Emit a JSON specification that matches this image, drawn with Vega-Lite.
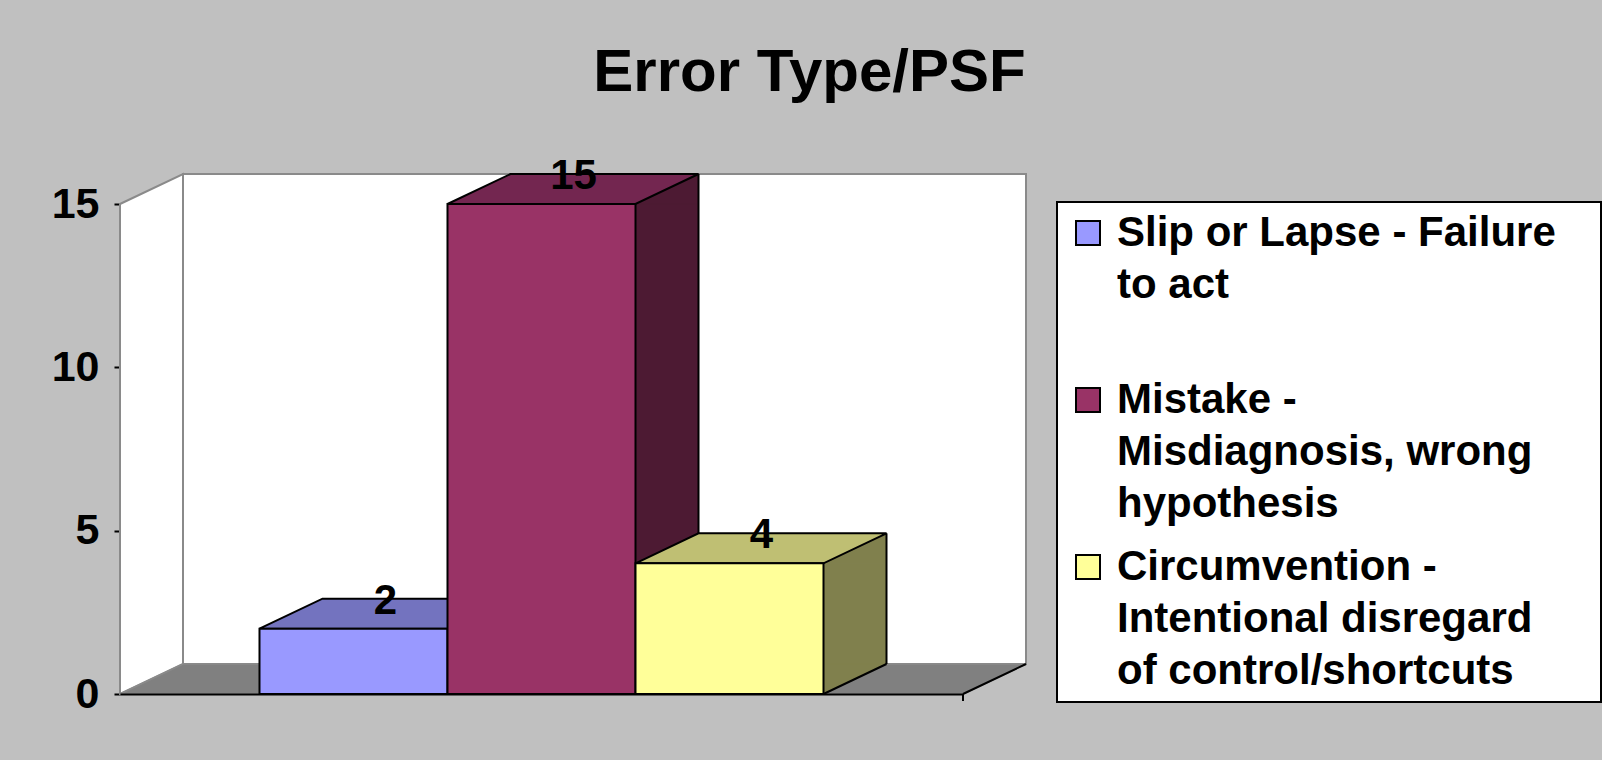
{
  "$schema": "https://vega.github.io/schema/vega-lite/v6.json",
  "width": 843,
  "height": 490,
  "autosize": {"type": "none"},
  "padding": {"left": 120, "top": 204, "right": 639, "bottom": 66},
  "background": "#C0C0C0",
  "config": {"view": {"stroke": null}, "font": "Liberation Sans",
    "axisY": {"title": null, "grid": false, "domainColor": "black", "domainWidth": 2, "tickColor": "black", "tickWidth": 2, "tickSize": 6, "labelFontSize": 43, "labelFontWeight": "bold", "labelColor": "black", "labelPadding": 15, "labelFont": "Liberation Sans", "zindex": 1}},
  "title": {"text": "Error Type/PSF", "font": "Liberation Sans", "fontSize": 60, "fontWeight": "bold", "color": "black", "anchor": "middle", "frame": "group", "dx": 268, "offset": 51},
  "data": {"values": [
    {"cat": "Slip or Lapse - Failure to act", "count": 2},
    {"cat": "Mistake - Misdiagnosis, wrong hypothesis", "count": 15},
    {"cat": "Circumvention - Intentional disregard of control/shortcuts", "count": 4}
  ]},
  "resolve": {"scale": {"x": "independent", "fill": "independent", "stroke": "independent", "color": "independent"}},
  "layer": [
    {
      "data": {"values": [{"part": "back wall"}]},
      "mark": {"type": "point", "shape": "M63,-30 L63,-520 L906,-520 L906,-30 Z", "size": 4, "filled": true, "fill": "white", "stroke": "#8A8A8A", "strokeWidth": 2, "opacity": 1},
      "encoding": {
        "x": {"datum": 0, "type": "quantitative", "scale": {"domain": [0, 1]}, "axis": null},
        "y": {"datum": 0, "type": "quantitative", "scale": {"domain": [0, 15], "nice": false}, "axis": {"values": [0, 5, 10, 15], "title": null}}
      }
    },
    {
      "data": {"values": [{"part": "side wall"}]},
      "mark": {"type": "point", "shape": "M0,0 L0,-490 L63,-520 L63,-30 Z", "size": 4, "filled": true, "fill": "white", "stroke": "#8A8A8A", "strokeWidth": 2, "opacity": 1},
      "encoding": {
        "x": {"datum": 0, "type": "quantitative", "scale": {"domain": [0, 1]}, "axis": null},
        "y": {"datum": 0, "type": "quantitative", "scale": {"domain": [0, 15], "nice": false}, "axis": {"values": [0, 5, 10, 15], "title": null}}
      }
    },
    {
      "data": {"values": [{"part": "floor"}]},
      "mark": {"type": "point", "shape": "M0,0 L63,-30 L906,-30 L843,0 Z", "size": 4, "filled": true, "fill": "#808080", "stroke": "#8A8A8A", "strokeWidth": 1.5, "opacity": 1},
      "encoding": {
        "x": {"datum": 0, "type": "quantitative", "scale": {"domain": [0, 1]}, "axis": null},
        "y": {"datum": 0, "type": "quantitative", "scale": {"domain": [0, 15], "nice": false}, "axis": {"values": [0, 5, 10, 15], "title": null}}
      }
    },
    {
      "data": {"values": [{"part": "floor edge"}]},
      "mark": {"type": "point", "shape": "M843,0 L906,-30 M843,0 L843,7", "size": 4, "filled": false, "stroke": "black", "strokeWidth": 2, "opacity": 1},
      "encoding": {
        "x": {"datum": 0, "type": "quantitative", "scale": {"domain": [0, 1]}, "axis": null},
        "y": {"datum": 0, "type": "quantitative", "scale": {"domain": [0, 15], "nice": false}, "axis": {"values": [0, 5, 10, 15], "title": null}}
      }
    },
    {
      "mark": {"type": "bar", "width": 63, "xOffset": 125.5, "y2Offset": -30, "strokeWidth": 1},
      "encoding": {
        "x": {"field": "cat", "type": "nominal", "sort": null, "scale": {"type": "band", "paddingInner": 0, "paddingOuter": 0.742}, "axis": null},
        "y": {"field": "count", "type": "quantitative", "scale": {"domain": [0, 15], "nice": false}, "axis": {"values": [0, 5, 10, 15], "title": null}},
        "y2": {"datum": 0},
        "fill": {"field": "cat", "type": "nominal", "sort": null, "scale": {"range": ["#4D4D80", "#4D1A33", "#80804D"]}, "legend": null},
        "stroke": {"field": "cat", "type": "nominal", "sort": null, "scale": {"range": ["#4D4D80", "#4D1A33", "#80804D"]}, "legend": null}
      }
    },
    {
      "mark": {"type": "point", "shape": "M94,0 L157,-30 L157,0 Z", "size": 4, "filled": true, "strokeWidth": 1, "opacity": 1},
      "encoding": {
        "x": {"field": "cat", "type": "nominal", "sort": null, "scale": {"type": "band", "paddingInner": 0, "paddingOuter": 0.742}, "axis": null},
        "y": {"field": "count", "type": "quantitative", "scale": {"domain": [0, 15], "nice": false}, "axis": {"values": [0, 5, 10, 15], "title": null}},
        "fill": {"field": "cat", "type": "nominal", "sort": null, "scale": {"range": ["#4D4D80", "#4D1A33", "#80804D"]}, "legend": null},
        "stroke": {"field": "cat", "type": "nominal", "sort": null, "scale": {"range": ["#4D4D80", "#4D1A33", "#80804D"]}, "legend": null}
      }
    },
    {
      "mark": {"type": "point", "shape": "M94,-30 L94,0 L157,-30 Z", "size": 4, "filled": true, "strokeWidth": 1, "opacity": 1},
      "encoding": {
        "x": {"field": "cat", "type": "nominal", "sort": null, "scale": {"type": "band", "paddingInner": 0, "paddingOuter": 0.742}, "axis": null},
        "y": {"datum": 0, "type": "quantitative", "scale": {"domain": [0, 15], "nice": false}, "axis": {"values": [0, 5, 10, 15], "title": null}},
        "fill": {"field": "cat", "type": "nominal", "sort": null, "scale": {"range": ["#4D4D80", "#4D1A33", "#80804D"]}, "legend": null},
        "stroke": {"field": "cat", "type": "nominal", "sort": null, "scale": {"range": ["#4D4D80", "#4D1A33", "#80804D"]}, "legend": null}
      }
    },
    {
      "mark": {"type": "rule", "xOffset": 157, "yOffset": -30, "y2Offset": -30, "color": "black", "strokeWidth": 2},
      "encoding": {
        "x": {"field": "cat", "type": "nominal", "sort": null, "scale": {"type": "band", "paddingInner": 0, "paddingOuter": 0.742}, "axis": null},
        "y": {"field": "count", "type": "quantitative", "scale": {"domain": [0, 15], "nice": false}, "axis": {"values": [0, 5, 10, 15], "title": null}},
        "y2": {"datum": 0}
      }
    },
    {
      "mark": {"type": "point", "shape": "M94,0 L157,-30", "size": 4, "filled": false, "stroke": "black", "strokeWidth": 2, "opacity": 1},
      "encoding": {
        "x": {"field": "cat", "type": "nominal", "sort": null, "scale": {"type": "band", "paddingInner": 0, "paddingOuter": 0.742}, "axis": null},
        "y": {"datum": 0, "type": "quantitative", "scale": {"domain": [0, 15], "nice": false}, "axis": {"values": [0, 5, 10, 15], "title": null}}
      }
    },
    {
      "mark": {"type": "point", "shape": "M-94,0 L94,0 L157,-30 L-31,-30 Z", "size": 4, "filled": true, "stroke": "black", "strokeWidth": 2, "opacity": 1},
      "encoding": {
        "x": {"field": "cat", "type": "nominal", "sort": null, "scale": {"type": "band", "paddingInner": 0, "paddingOuter": 0.742}, "axis": null},
        "y": {"field": "count", "type": "quantitative", "scale": {"domain": [0, 15], "nice": false}, "axis": {"values": [0, 5, 10, 15], "title": null}},
        "fill": {"field": "cat", "type": "nominal", "sort": null, "scale": {"range": ["#7373BF", "#732650", "#BFBF73"]}, "legend": null}
      }
    },
    {
      "mark": {"type": "bar", "stroke": "black", "strokeWidth": 2},
      "encoding": {
        "x": {"field": "cat", "type": "nominal", "sort": null, "scale": {"type": "band", "paddingInner": 0, "paddingOuter": 0.742},
              "axis": {"labels": false, "ticks": false, "title": null, "domainColor": "black", "domainWidth": 2, "zindex": 1}},
        "y": {"field": "count", "type": "quantitative", "scale": {"domain": [0, 15], "nice": false}, "axis": {"values": [0, 5, 10, 15], "title": null}},
        "y2": {"datum": 0},
        "color": {"field": "cat", "type": "nominal", "sort": null,
          "scale": {"domain": ["Slip or Lapse - Failure to act", "Mistake - Misdiagnosis, wrong hypothesis", "Circumvention - Intentional disregard of control/shortcuts"], "range": ["#9999FF", "#993366", "#FFFF99"]},
          "legend": {"title": null, "orient": "none", "legendX": 937, "legendY": -2, "fillColor": "white", "strokeColor": "black", "padding": 10,
            "symbolType": "square", "symbolSize": 576, "symbolStrokeColor": "black", "symbolStrokeWidth": 2, "symbolOpacity": 1,
            "labelFont": "Liberation Sans", "labelFontSize": 42, "labelFontWeight": "bold", "labelColor": "black", "labelLimit": 1000, "labelOffset": 8, "labelBaseline": "middle",
            "rowPadding": 21, "gridAlign": "all",
            "labelExpr": "datum.label == 'Slip or Lapse - Failure to act' ? ['Slip or Lapse - Failure\u00a0\u00a0\u00a0\u200b', 'to act'] : datum.label == 'Mistake - Misdiagnosis, wrong hypothesis' ? ['Mistake -', 'Misdiagnosis, wrong', 'hypothesis'] : ['Circumvention -', 'Intentional disregard', 'of control/shortcuts']",
            "encode": {"legend": {"update": {"strokeWidth": {"value": 2}}}, "labels": {"update": {"lineHeight": {"value": 52}}}}}
        }
      }
    },
    {
      "mark": {"type": "text", "dx": 32, "dy": -15, "baseline": "alphabetic", "align": "center", "font": "Liberation Sans", "fontSize": 42, "fontWeight": "bold", "color": "black"},
      "encoding": {
        "x": {"field": "cat", "type": "nominal", "sort": null, "scale": {"type": "band", "paddingInner": 0, "paddingOuter": 0.742}, "axis": null},
        "y": {"field": "count", "type": "quantitative", "scale": {"domain": [0, 15], "nice": false}, "axis": {"values": [0, 5, 10, 15], "title": null}},
        "text": {"field": "count", "type": "quantitative"}
      }
    }
  ]
}
